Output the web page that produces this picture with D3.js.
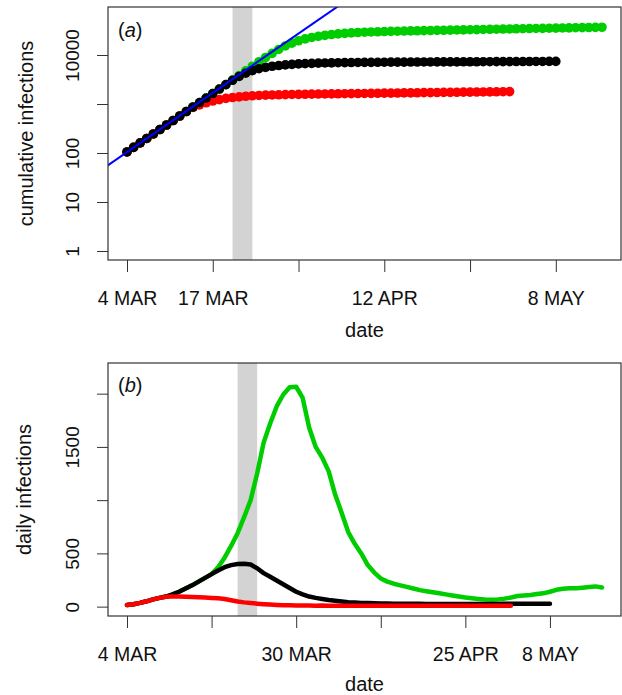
<!DOCTYPE html>
<html>
<head>
<meta charset="utf-8">
<script src="https://cdn.jsdelivr.net/npm/d3@7"></script>
<style>
  body { margin: 0; background: #fff; }
  text { font-family: "Liberation Sans", Arial, Helvetica, sans-serif; fill: #111; }
</style>
</head>
<body>
<div id="canvas"></div>
<script>
// days counted from 4 MAR
const xTickDays = [0, 13, 26, 39, 52, 65];
const xLabelsTop = ["4 MAR", "17 MAR", "", "12 APR", "", "8 MAY"];
const xLabelsBottom = ["4 MAR", "", "30 MAR", "", "25 APR", "8 MAY"];
const yTicksTop = [1, 10, 100, 1000, 10000];
const yLabelsTop = ["1", "10", "100", "", "10000"];
const yTicksBottom = [0, 500, 1000, 1500, 2000];
const yLabelsBottom = ["0", "500", "", "1500", ""];

// shaded period (days)
const bandTop = [16, 19];
const bandBottom = [17, 20];

// exponential reference line, two end points [day, value]
const blueLine = [[-3, 55], [33, 122700]];

// cumulative infections (one value per day from day 0)
const greenCum = [105,130,161,198,245,302,373,461,569,703,868,1072,1324,1635,2018,2490,
  3080,3800,4750,5900,7300,8900,10800,13000,15300,17500,19500,21300,22800,24100,25200,
  26200,27000,27700,28300,28800,29200,29550,29850,30100,30350,30600,30850,31050,31250,
  31450,31650,31850,32050,32250,32450,32650,32850,33050,33250,33450,33650,33850,34050,
  34250,34450,34650,34850,35050,35250,35450,35650,35850,36050,36250,36450,36650,36850];
const redCum = [105,130,161,198,245,302,373,461,569,703,850,960,1060,1150,1230,1300,1355,
  1400,1440,1470,1495,1515,1530,1543,1555,1565,1575,1583,1590,1597,1604,1611,1617,1624,
  1631,1637,1644,1651,1657,1664,1671,1677,1684,1691,1697,1704,1711,1717,1724,1731,1737,
  1744,1751,1757,1764,1771,1777,1784,1790];
const blackCum = [105,130,161,198,245,302,373,461,569,703,868,1072,1324,1635,2018,2490,
  3050,3650,4250,4800,5250,5600,5900,6100,6300,6450,6580,6680,6760,6830,6880,6920,6960,
  6990,7020,7045,7070,7090,7110,7130,7145,7160,7175,7190,7200,7210,7220,7230,7240,7250,
  7260,7270,7280,7290,7300,7310,7320,7330,7340,7350,7360,7370,7380,7390,7400,7410];

// daily infections (one value per day from day 0)
const greenDaily = [15,22,35,50,68,82,95,115,140,170,200,235,270,305,370,460,570,690,840,
  1000,1250,1540,1720,1880,1990,2060,2065,1960,1680,1500,1400,1270,1050,880,700,590,500,
  390,320,265,235,215,200,185,170,155,145,135,125,115,105,95,85,78,72,66,64,68,75,85,100,
  105,110,118,125,140,158,168,172,172,178,185,190,180];
const redDaily = [15,22,35,50,68,82,92,95,94,92,90,88,85,82,78,72,60,48,40,34,28,23,19,16,
  14,12,11,10,10,9,10,9,9,9,9,9,8,8,8,8,8,8,8,8,8,8,8,8,8,8,8,8,8,8,8,8,8,8,8,8];
const blackDaily = [15,22,35,50,68,82,95,115,140,170,200,235,270,305,340,370,390,400,402,
  395,360,315,280,245,210,175,140,115,95,82,72,62,55,48,42,38,35,33,31,30,29,28,27,27,26,
  26,25,25,25,25,24,24,24,24,25,25,25,25,26,26,27,27,27,27,28,28];

const width = 622, height = 695;
const boxTop = { left: 108, right: 621, top: 7, bottom: 260 };
const boxBot = { left: 108, right: 621, top: 363, bottom: 616 };

const svg = d3.select("#canvas")
  .append("svg")
  .attr("width", width)
  .attr("height", height);

svg.append("rect").attr("width", width).attr("height", height).attr("fill", "#fff");

const xTop = d3.scaleLinear().domain([-2.88, 74.88]).range([boxTop.left, boxTop.right]);
const yTop = d3.scaleLog().domain([Math.pow(10, -0.184), Math.pow(10, 4.98)]).range([boxTop.bottom, boxTop.top]);
const xBot = d3.scaleLinear().domain([-2.92, 75.92]).range([boxBot.left, boxBot.right]);
const yBot = d3.scaleLinear().domain([-88, 2288]).range([boxBot.bottom, boxBot.top]);

const COLORS = { green: "#00cd00", red: "#ff0000", black: "#000000", blue: "#0000ff" };

function drawAxes(box, x, y, xLabels, yTicks, yLabels, xTitleY, yTitle, yTitleX) {
  const xAxis = svg.append("g")
    .attr("transform", `translate(0,${box.bottom})`)
    .call(d3.axisBottom(x).tickValues(xTickDays).tickFormat((d, i) => xLabels[i]).tickSize(12));
  xAxis.select(".domain").remove();
  xAxis.selectAll("line").attr("stroke", "#333");
  xAxis.selectAll("text").attr("dy", null).attr("y", 45)
    .attr("font-size", 19.5).attr("fill", "#111");

  const yAxis = svg.append("g")
    .attr("transform", `translate(${box.left},0)`)
    .call(d3.axisLeft(y).tickValues(yTicks).tickFormat((d, i) => yLabels[i]).tickSize(11));
  yAxis.select(".domain").remove();
  yAxis.selectAll("line").attr("stroke", "#333");
  yAxis.selectAll("text")
    .attr("x", 0).attr("dy", null)
    .attr("text-anchor", "middle")
    .attr("transform", "translate(-29,0) rotate(-90)")
    .attr("font-size", 19).attr("fill", "#111");

  svg.append("rect")
    .attr("x", box.left).attr("y", box.top)
    .attr("width", box.right - box.left).attr("height", box.bottom - box.top)
    .attr("fill", "none").attr("stroke", "#333").attr("stroke-width", 1.2);

  svg.append("text")
    .attr("x", (box.left + box.right) / 2).attr("y", xTitleY)
    .attr("text-anchor", "middle").attr("font-size", 20)
    .text("date");

  svg.append("text")
    .attr("transform", `translate(${yTitleX},${(box.top + box.bottom) / 2}) rotate(-90)`)
    .attr("text-anchor", "middle").attr("font-size", 20)
    .text(yTitle);
}

function panelLabel(box, letter, y) {
  const t = svg.append("text").attr("x", box.left + 10).attr("y", y).attr("font-size", 20);
  t.append("tspan").text("(");
  t.append("tspan").attr("font-style", "italic").text(letter);
  t.append("tspan").text(")");
}

// ---- panel (a): cumulative, log scale ----
svg.append("defs").append("clipPath").attr("id", "clipTop")
  .append("rect")
  .attr("x", boxTop.left).attr("y", boxTop.top)
  .attr("width", boxTop.right - boxTop.left).attr("height", boxTop.bottom - boxTop.top);

svg.append("rect")
  .attr("x", xTop(bandTop[0])).attr("y", boxTop.top)
  .attr("width", xTop(bandTop[1]) - xTop(bandTop[0]))
  .attr("height", boxTop.bottom - boxTop.top)
  .attr("fill", "#d3d3d3");

const dotSeries = [
  { values: greenCum, color: COLORS.green },
  { values: redCum, color: COLORS.red },
  { values: blackCum, color: COLORS.black }
];
dotSeries.forEach(s => {
  svg.append("g")
    .selectAll("circle")
    .data(s.values)
    .join("circle")
    .attr("cx", (d, i) => xTop(i))
    .attr("cy", d => yTop(d))
    .attr("r", 4.8)
    .attr("fill", s.color);
});

svg.append("path")
  .datum(blueLine)
  .attr("clip-path", "url(#clipTop)")
  .attr("d", d3.line().x(d => xTop(d[0])).y(d => yTop(d[1])))
  .attr("fill", "none")
  .attr("stroke", COLORS.blue)
  .attr("stroke-width", 2);

drawAxes(boxTop, xTop, yTop, xLabelsTop, yTicksTop, yLabelsTop, 337, "cumulative infections", 33);
panelLabel(boxTop, "a", 37);

// ---- panel (b): daily ----
svg.append("rect")
  .attr("x", xBot(bandBottom[0])).attr("y", boxBot.top)
  .attr("width", xBot(bandBottom[1]) - xBot(bandBottom[0]))
  .attr("height", boxBot.bottom - boxBot.top)
  .attr("fill", "#d3d3d3");

const lineGen = d3.line().x((d, i) => xBot(i)).y(d => yBot(d));
const lineSeries = [
  { values: greenDaily, color: COLORS.green },
  { values: blackDaily, color: COLORS.black },
  { values: redDaily, color: COLORS.red }
];
lineSeries.forEach(s => {
  svg.append("path")
    .datum(s.values)
    .attr("d", lineGen)
    .attr("fill", "none")
    .attr("stroke", s.color)
    .attr("stroke-width", 4.5)
    .attr("stroke-linejoin", "round")
    .attr("stroke-linecap", "round");
});

drawAxes(boxBot, xBot, yBot, xLabelsBottom, yTicksBottom, yLabelsBottom, 691, "daily infections", 31);
panelLabel(boxBot, "b", 392);
</script>
</body>
</html>
